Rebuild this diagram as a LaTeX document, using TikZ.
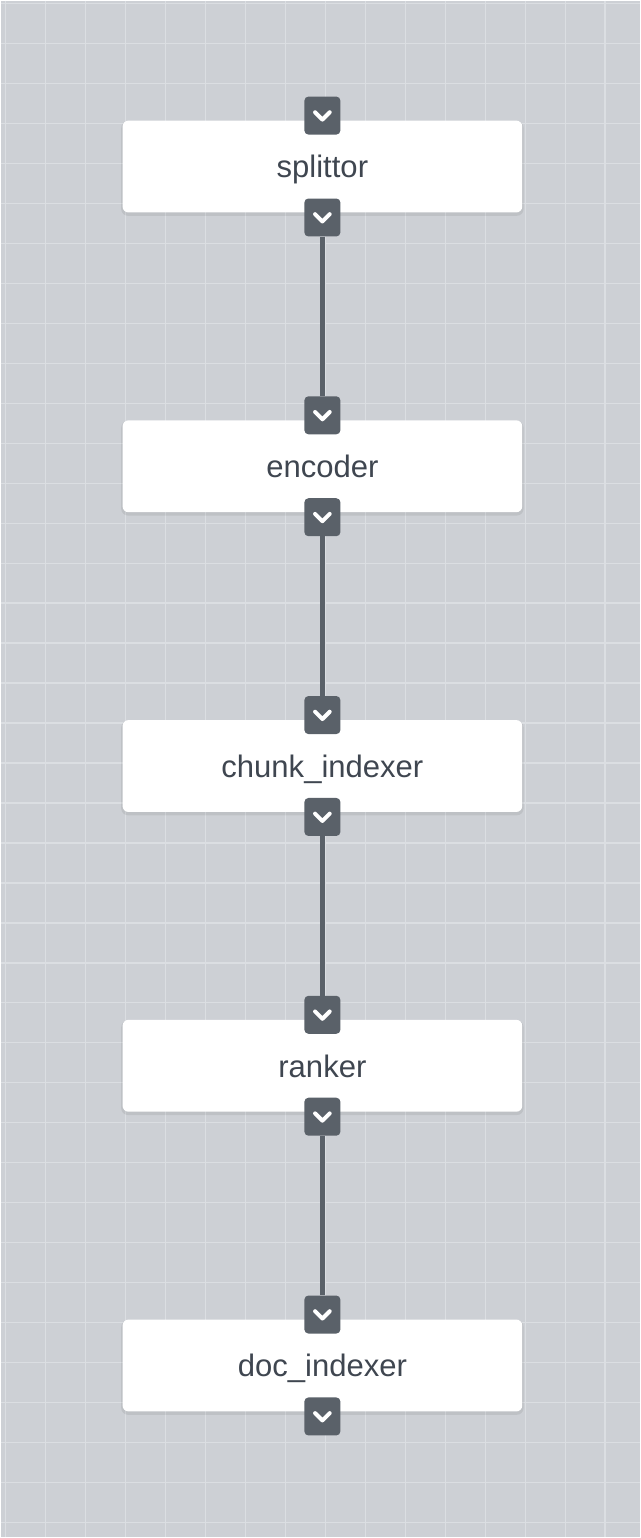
\documentclass[tikz,border=0pt]{standalone}
\usepackage{fontspec}
\setmainfont{Liberation Sans}
\begin{document}
\definecolor{canvas}{HTML}{CDD0D5}
\definecolor{gridline}{HTML}{DBDEE2}
\definecolor{portfill}{HTML}{5A6169}
\definecolor{labeltext}{HTML}{3F4650}
\begin{tikzpicture}[x=0.75pt,y=-0.75pt,
  stagebox/.style={fill=white, rounded corners=4.5pt, minimum width=300pt, minimum height=69pt,
    inner sep=0pt, font=\fontsize{23.3pt}{27pt}\selectfont, text=labeltext},
  boxshade/.style={fill=black, opacity=0.07, rounded corners=5pt, minimum width=302pt, minimum height=71pt, inner sep=0pt},
  port/.style={fill=portfill, rounded corners=3pt, minimum width=27pt, minimum height=28.5pt, inner sep=0pt},
  chevron/.style={draw=white, line width=3pt, line cap=round, line join=round},
  link/.style={draw=portfill, line width=3.8pt}
]
% canvas and grid
\fill[canvas] (0,0) rectangle (640,1538);
\foreach \gx in {5,45,...,605} \draw[gridline, line width=1pt] (\gx,0) -- (\gx,1538);
\foreach \gy in {3,43,...,1523} \draw[gridline, line width=1pt] (0,\gy) -- (640,\gy);
\useasboundingbox (0,0) rectangle (640,1538);

% stages: the label baseline sits a little below the box centre
\foreach \i/\label in {1/splittor, 2/encoder, 3/chunk\_indexer, 4/ranker, 5/doc\_indexer}{
  \pgfmathsetmacro{\cy}{166+300*(\i-1)}
  \node[boxshade] (s\i) at (322,\cy+2) {};
  \node[stagebox] (b\i) at (322,\cy) {\raisebox{-8.5pt}[0pt][0pt]{\label}};
  \node[port] (t\i) at (322,\cy-51) {};
  \node[port] (o\i) at (322,\cy+51) {};
  \draw[chevron] ([shift={(-5.5pt,2.5pt)}]t\i.center) -- ([shift={(0pt,-3pt)}]t\i.center) -- ([shift={(5.5pt,2.5pt)}]t\i.center);
  \draw[chevron] ([shift={(-5.5pt,2.5pt)}]o\i.center) -- ([shift={(0pt,-3pt)}]o\i.center) -- ([shift={(5.5pt,2.5pt)}]o\i.center);
}
% connectors
\foreach \a/\b in {1/2,2/3,3/4,4/5}
  \draw[link] (o\a.south) -- (t\b.north);
\end{tikzpicture}
\end{document}
